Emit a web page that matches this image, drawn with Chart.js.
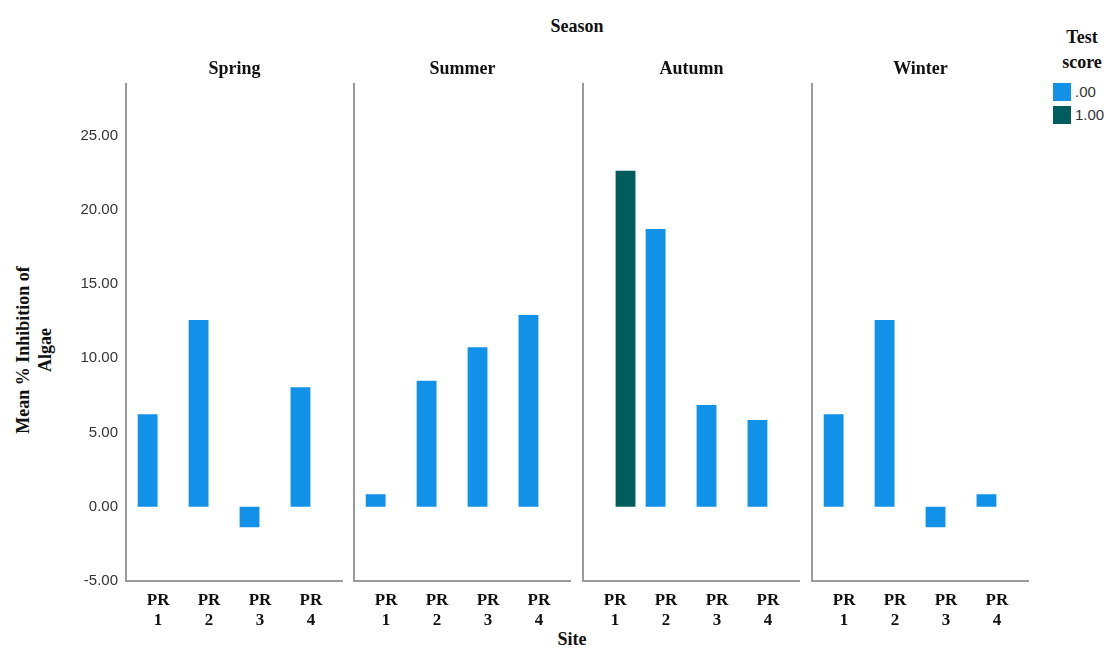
<!DOCTYPE html>
<html>
<head>
    <title>Mean % Inhibition of Algae by Season and Site</title>
    <script src="https://cdn.jsdelivr.net/npm/chart.js"></script>
    <style>
        body {
            margin: 0;
            background: #fff;
            width: 1107px;
            height: 653px;
            position: relative;
            overflow: hidden;
        }
        .panel {
            position: absolute;
            top: 50px;
            height: 580px;
        }
        .serif-bold {
            position: absolute;
            font-family: "Liberation Serif", "Times New Roman", serif;
            font-weight: bold;
            font-size: 18px;
            color: #111;
            text-align: center;
            line-height: 25px;
        }
        .y-title {
            line-height: 22px;
            width: 260px;
            height: 44px;
            left: -96px;
            top: 328px;
            transform: rotate(-90deg);
        }
        .legend-item {
            position: absolute;
            left: 1053px;
            font-family: "Liberation Sans", Arial, sans-serif;
            font-size: 15px;
            color: #333;
            line-height: 18px;
        }
        .legend-item span {
            display: inline-block;
            width: 18px;
            height: 18px;
            vertical-align: top;
            margin-right: 4px;
        }
    </style>
</head>
<body>
    <div class="serif-bold" style="left: 477px; top: 14px; width: 200px;">Season</div>
    <div class="serif-bold" style="left: 472px; top: 627px; width: 200px;">Site</div>
    <div class="serif-bold y-title">Mean % Inhibition of<br>Algae</div>

    <div class="serif-bold" style="left: 1042px; top: 25px; width: 80px;">Test<br>score</div>
    <div class="legend-item" style="top: 83px;"><span id="swatch0"></span><b style="font-weight:normal" id="lab0"></b></div>
    <div class="legend-item" style="top: 106px;"><span id="swatch1"></span><b style="font-weight:normal" id="lab1"></b></div>

    <div class="panel" style="left: 0px; width: 343px;"><canvas id="chart0"></canvas></div>
    <div class="panel" style="left: 352px; width: 219px;"><canvas id="chart1"></canvas></div>
    <div class="panel" style="left: 581px; width: 219px;"><canvas id="chart2"></canvas></div>
    <div class="panel" style="left: 810px; width: 219px;"><canvas id="chart3"></canvas></div>

    <script>
        // data
        const seasons = ['Spring', 'Summer', 'Autumn', 'Winter'];
        const sites = [['PR', '1'], ['PR', '2'], ['PR', '3'], ['PR', '4']];
        const scoreLabels = ['.00', '1.00'];
        const scoreColors = ['#1192e8', '#005d5d'];

        // Test score .00, one array per season (PR1..PR4)
        const score0 = [
            [6.23, 12.58, -1.38, 8.05],
            [0.84, 8.48, 10.75, 12.91],
            [null, 18.70, 6.86, 5.85],
            [6.23, 12.57, -1.38, 0.84]
        ];
        // Test score 1.00
        const score1 = [
            [null, null, null, null],
            [null, null, null, null],
            [22.63, null, null, null],
            [null, null, null, null]
        ];

        const yTickValues = [-5, 0, 5, 10, 15, 20, 25];
        const yMin = -5;
        const yMax = 28.5;
        // site index range, a bit wider than half a slot on each side like SPSS
        const xMin = -0.63;
        const xMax = 3.63;

        const axisColor = '#9a9a9a';
        const serif = "'Liberation Serif', 'Times New Roman', serif";
        const sans = "'Liberation Sans', Arial, sans-serif";

        document.getElementById('swatch0').style.background = scoreColors[0];
        document.getElementById('swatch1').style.background = scoreColors[1];
        document.getElementById('lab0').textContent = scoreLabels[0];
        document.getElementById('lab1').textContent = scoreLabels[1];

        function makePanel(i) {
            const first = i === 0;
            const ctx = document.getElementById('chart' + i).getContext('2d');
            new Chart(ctx, {
                type: 'bar',
                data: {
                    datasets: [
                        {
                            label: scoreLabels[0],
                            data: score0[i].map((v, k) => ({ x: k, y: v })),
                            backgroundColor: scoreColors[0],
                            borderWidth: 0
                        },
                        {
                            label: scoreLabels[1],
                            data: score1[i].map((v, k) => ({ x: k, y: v })),
                            backgroundColor: scoreColors[1],
                            borderWidth: 0
                        }
                    ]
                },
                options: {
                    responsive: true,
                    maintainAspectRatio: false,
                    animation: false,
                    layout: { padding: 0 },
                    categoryPercentage: 0.82,
                    barPercentage: 0.95,
                    plugins: {
                        legend: { display: false },
                        tooltip: { enabled: false },
                        title: {
                            display: true,
                            text: seasons[i],
                            fullSize: false,
                            color: '#111',
                            font: { family: serif, size: 18, weight: 'bold', lineHeight: 1.2 },
                            padding: { top: 9, bottom: 3 }
                        }
                    },
                    scales: {
                        x: {
                            type: 'linear',
                            min: xMin,
                            max: xMax,
                            offset: false,
                            grid: { display: false, drawTicks: false, offset: false },
                            border: { display: true, color: axisColor, width: 2 },
                            afterBuildTicks: function(scale) {
                                scale.ticks = sites.map((s, k) => ({ value: k }));
                            },
                            ticks: {
                                color: '#111',
                                padding: 10,
                                maxRotation: 0,
                                autoSkip: false,
                                callback: v => sites[v],
                                font: { family: serif, size: 17, weight: 'bold', lineHeight: 1.15 }
                            },
                            afterFit: function(scale) { scale.height = 49; }
                        },
                        y: {
                            min: yMin,
                            max: yMax,
                            grid: { display: false, drawTicks: false },
                            border: { display: true, color: axisColor, width: 2 },
                            afterBuildTicks: function(scale) {
                                scale.ticks = yTickValues.map(v => ({ value: v }));
                            },
                            ticks: {
                                display: first,
                                color: '#333',
                                padding: 8,
                                font: { family: sans, size: 15 },
                                callback: v => v.toFixed(2)
                            },
                            afterFit: function(scale) { scale.width = first ? 126 : 2; }
                        }
                    }
                }
            });
        }

        seasons.forEach((s, i) => makePanel(i));
    </script>
</body>
</html>
